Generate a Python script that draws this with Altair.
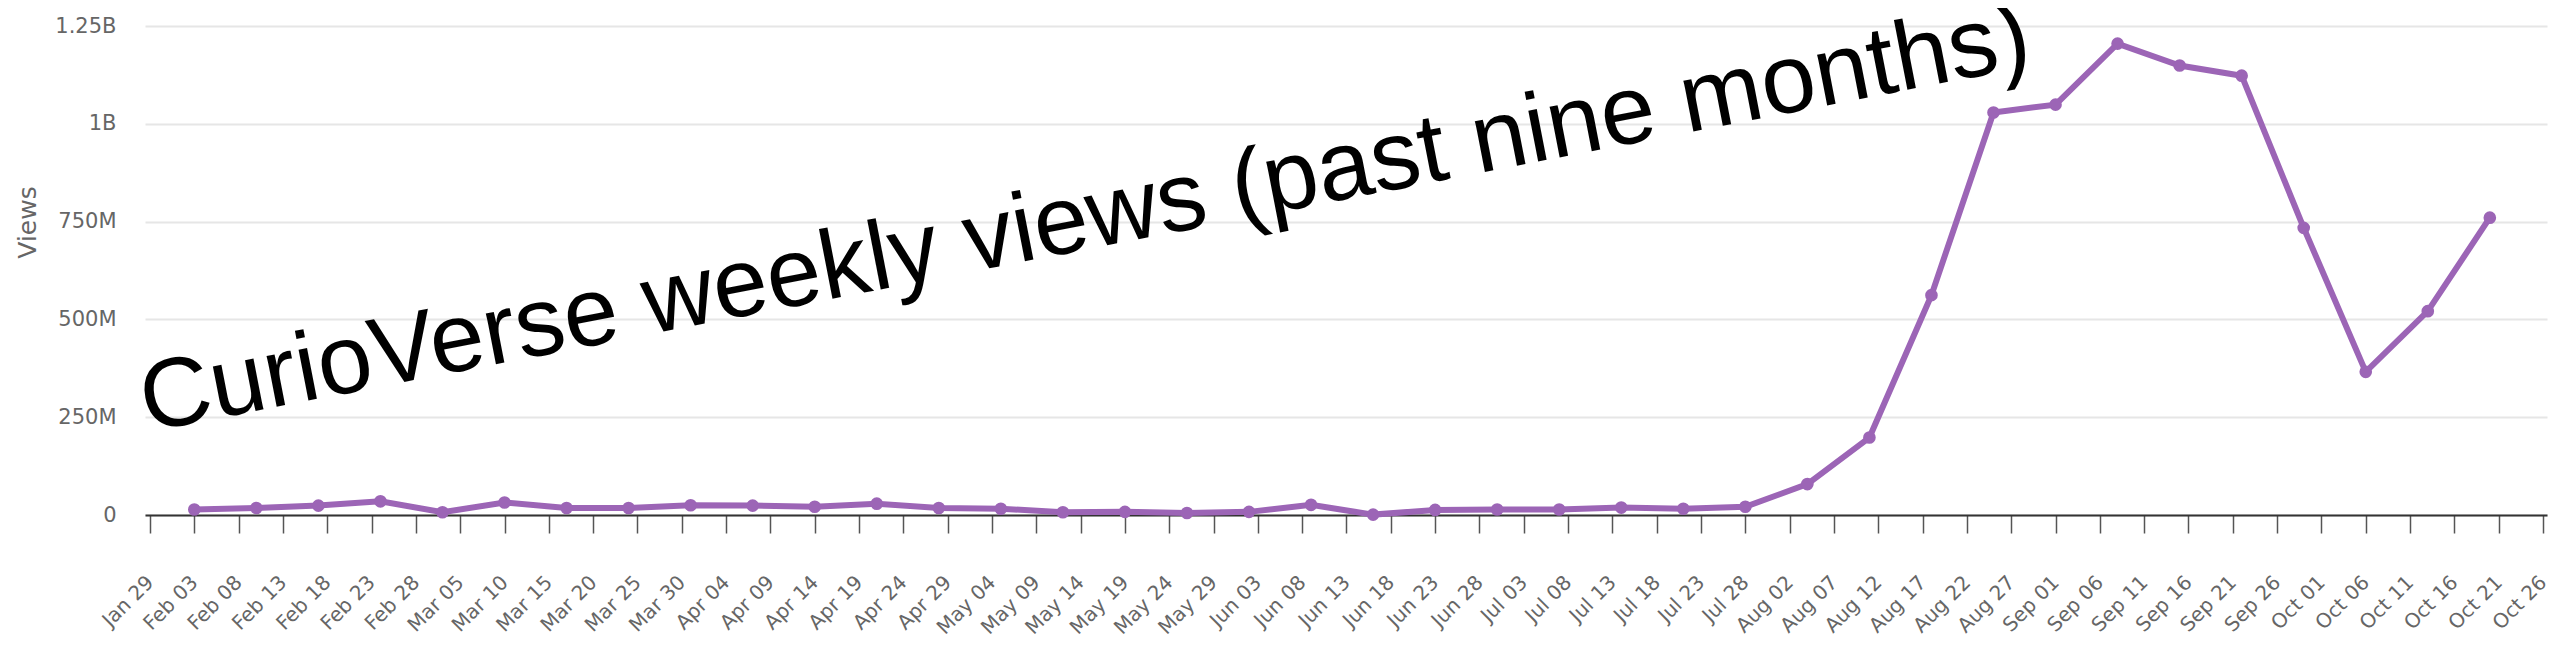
import altair as alt
import pandas as pd

# ---- data ----
week_dates = [
    "2023-02-03", "2023-02-10", "2023-02-17", "2023-02-24",
    "2023-03-03", "2023-03-10", "2023-03-17", "2023-03-24", "2023-03-31",
    "2023-04-07", "2023-04-14", "2023-04-21", "2023-04-28",
    "2023-05-05", "2023-05-12", "2023-05-19", "2023-05-26",
    "2023-06-02", "2023-06-09", "2023-06-16", "2023-06-23", "2023-06-30",
    "2023-07-07", "2023-07-14", "2023-07-21", "2023-07-28",
    "2023-08-04", "2023-08-11", "2023-08-18", "2023-08-25",
    "2023-09-01", "2023-09-08", "2023-09-15", "2023-09-22", "2023-09-29",
    "2023-10-06", "2023-10-13", "2023-10-20",
]
views_millions = [
    14, 18, 24, 35,
    7, 32, 18, 18, 25,
    24, 21, 29, 18,
    16, 7, 8, 5,
    8, 26, 1, 13, 14,
    14, 19, 16, 21,
    79, 198, 562, 1029,
    1049, 1205, 1149, 1123, 734,
    366, 521, 760,
]
tick_dates = [
    "2023-01-29", "2023-02-03", "2023-02-08", "2023-02-13", "2023-02-18", "2023-02-23",
    "2023-02-28", "2023-03-05", "2023-03-10", "2023-03-15", "2023-03-20", "2023-03-25",
    "2023-03-30", "2023-04-04", "2023-04-09", "2023-04-14", "2023-04-19", "2023-04-24",
    "2023-04-29", "2023-05-04", "2023-05-09", "2023-05-14", "2023-05-19", "2023-05-24",
    "2023-05-29", "2023-06-03", "2023-06-08", "2023-06-13", "2023-06-18", "2023-06-23",
    "2023-06-28", "2023-07-03", "2023-07-08", "2023-07-13", "2023-07-18", "2023-07-23",
    "2023-07-28", "2023-08-02", "2023-08-07", "2023-08-12", "2023-08-17", "2023-08-22",
    "2023-08-27", "2023-09-01", "2023-09-06", "2023-09-11", "2023-09-16", "2023-09-21",
    "2023-09-26", "2023-10-01", "2023-10-06", "2023-10-11", "2023-10-16", "2023-10-21",
    "2023-10-26",
]
y_ticks = [0, 250e6, 500e6, 750e6, 1000e6, 1250e6]
title_text = "CurioVerse weekly views (past nine months)"

LINE_COLOR = "#9c65b6"
LABEL_FONT = "DejaVu Sans"


def to_dt(s, hours=0, minutes=0):
    y, m, d = (int(p) for p in s.split("-"))
    return alt.DateTime(year=y, month=m, date=d, hours=hours, minutes=minutes, utc=True)


df = pd.DataFrame({"date": week_dates, "views": [v * 1e6 for v in views_millions]})

x_enc = alt.X(
    "date:T",
    scale=alt.Scale(
        type="utc",
        domain=[to_dt("2023-01-28", 10, 28), to_dt("2023-10-26", 10, 50)],
        nice=False,
    ),
    axis=alt.Axis(
        values=[to_dt(s) for s in tick_dates],
        labelExpr="utcFormat(datum.value, '%b %d')",
        title=None,
        grid=False,
        domainColor="#333333",
        domainWidth=2,
        tickColor="#555555",
        tickWidth=1.5,
        tickSize=18,
        labelColor="#666666",
        labelFont=LABEL_FONT,
        labelFontSize=20,
        labelAngle=315,
        labelAlign="right",
        labelBaseline="middle",
        labelPadding=46,
        labelOverlap=False,
        labelFlush=False,
        labelBound=False,
    ),
)

y_enc = alt.Y(
    "views:Q",
    scale=alt.Scale(domain=[0, 1.25e9], nice=False),
    axis=alt.Axis(
        values=y_ticks,
        labelExpr="datum.value == 0 ? '0' : replace(format(datum.value, '~s'), 'G', 'B')",
        title="Views",
        titleFont=LABEL_FONT,
        titleFontSize=25,
        titleFontWeight="normal",
        titleColor="#666666",
        titleAngle=270,
        titleAlign="center",
        titleBaseline="middle",
        titleX=-118,
        titleY=196,
        domain=False,
        ticks=False,
        labelPadding=29,
        labelColor="#666666",
        labelFont=LABEL_FONT,
        labelFontSize=21,
        labelOverlap=False,
        gridColor="#e6e6e6",
        gridWidth=2,
    ),
)

base = alt.Chart(df).encode(x=x_enc, y=y_enc)
line = base.mark_line(color=LINE_COLOR, strokeWidth=6)
points = base.mark_point(color=LINE_COLOR, filled=True, size=160, opacity=1)

annot = alt.Chart(pd.DataFrame({"t": [title_text]})).mark_text(
    font="Liberation Sans",
    fontSize=98,
    angle=349,
    align="left",
    baseline="alphabetic",
    color="black",
).encode(x=alt.value(2), y=alt.value(406), text="t:N")

chart = (
    alt.layer(line, points, annot)
    .properties(
        width=2402,
        height=489,
        padding={"left": 137, "top": 18, "right": 5, "bottom": 124},
        autosize=alt.AutoSizeParams(type="none"),
        background="white",
    )
    .configure_view(stroke=None)
)

chart.save("out.html", embed_options={"renderer": "svg", "actions": False})
